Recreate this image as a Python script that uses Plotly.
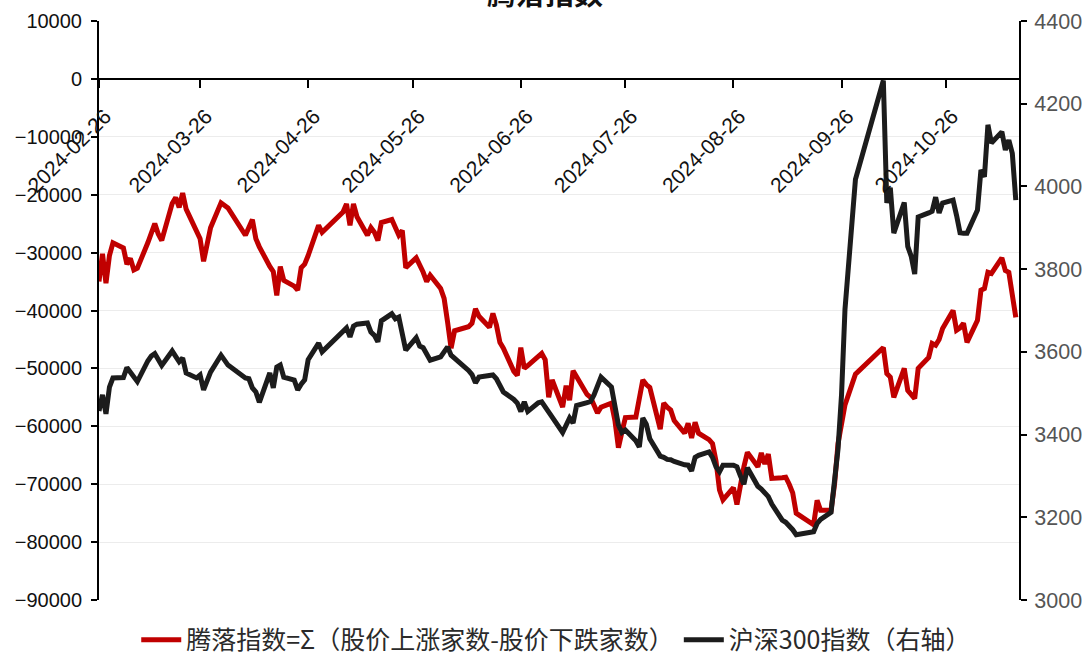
import pandas as pd
import plotly.graph_objects as go

# Trading calendar (SSE/SZSE), 2024-02-26 .. 2024-11-15
market_holidays = ["2024-04-04", "2024-04-05", "2024-05-01", "2024-05-02", "2024-05-03",
                   "2024-06-10", "2024-09-16", "2024-09-17", "2024-10-01", "2024-10-02",
                   "2024-10-03", "2024-10-04", "2024-10-07"]
trade_days = [d for d in pd.bdate_range("2024-02-26", "2024-11-15")
              if d.strftime("%Y-%m-%d") not in market_holidays]

# Advance-decline line (left axis)
adl = [
    -35000, -30200, -35300, -30500,
    -28300, -29200, -32000, -31000, -33000, -32700, -28300, -26500, -25000, -26800, -27900,
    -21500, -20500, -22200, -19700, -22500, -26500, -27600, -31500, -28000, -25700,
    -21400, -21800, -22300, -27000, -25500, -24300, -27600, -29000, -32400, -33300, -37400,
    -32400, -34800, -35800, -36500, -32600, -32000, -30500, -25300, -26500,
    -23000, -21600, -25300, -21600, -23800, -27000, -25700, -26500, -27900, -24800, -24300,
    -25500, -27000, -26200, -32600, -30900, -32000, -33400, -35000, -33900,
    -36200, -37900, -42000, -46500, -43500, -42800, -42200, -39700, -41000, -42900, -40500,
    -42500, -45500, -46500, -50500, -51200, -46400, -50000, -49500,
    -47800, -47400, -48500, -55000, -52000, -56700, -53000, -55500, -50400, -51500, -54500,
    -55000, -56500, -57700, -56700, -56000, -59000, -63700, -61000, -58500, -58400, -55000, -52000,
    -52800, -53300, -60500, -56000, -56700, -57200, -59000, -61200, -59500, -62000, -59300,
    -61200, -62300, -63000, -66000, -71000, -72700, -70600, -73500, -70000, -67000, -64500,
    -67000, -64600, -66500, -64800, -69000, -68900, -68800, -70000, -71500, -75000, -77000,
    -72800, -74500, -74500, -70000, -63000, -59000, -56300, -51000,
    -46400, -50900, -51500, -55000, -50000, -53800, -54500, -55200, -50000, -48100, -45700,
    -46000, -45000, -43100, -40000, -43400, -43000, -42200,
    -45500, -41700, -36500, -36200, -33400, -33600, -30900, -33100, -33400, -37500, -41200,
]

# CSI 300 close (right axis)
hs300 = [
    3457, 3496, 3450, 3515,
    3537, 3538, 3562, 3550, 3535, 3528, 3578, 3590, 3596, 3580, 3567,
    3602, 3590, 3576, 3585, 3549, 3537, 3544, 3508, 3530, 3551,
    3592, 3580, 3568, 3537, 3535, 3513, 3503, 3478, 3549, 3513, 3563,
    3568, 3539, 3532, 3508, 3522, 3532, 3581, 3621, 3600,
    3652, 3658, 3636, 3662, 3667, 3670, 3648, 3640, 3624, 3675, 3692,
    3680, 3684, 3640, 3604, 3634, 3614, 3610, 3595, 3580,
    3588, 3600, 3612, 3592, 3585, 3555, 3545, 3525, 3539, 3542, 3544,
    3535, 3520, 3503, 3485, 3476, 3456, 3479, 3456,
    3477, 3479, 3465, 3452, 3442, 3405, 3425, 3440, 3428, 3470, 3477,
    3480, 3496, 3520, 3539, 3515, 3460, 3423, 3405, 3411, 3385, 3370, 3440,
    3425, 3390, 3348, 3345, 3340, 3339, 3335, 3327, 3326, 3312, 3345,
    3350, 3358, 3345, 3322, 3310, 3326, 3326, 3322, 3300, 3280, 3320,
    3275, 3268, 3260, 3250, 3232, 3193, 3188, 3180, 3170, 3158, 3165,
    3185, 3195, 3212, 3300, 3365, 3495, 3703, 4017,
    4256, 3960, 3997, 3887, 3961, 3855, 3831, 3788, 3926, 3936, 3940,
    3974, 3936, 3960, 3967, 3930, 3888, 3887,
    3887, 3943, 4040, 4023, 4149, 4105, 4132, 4088, 4112, 4080, 3967,
]

x_ticks = ["2024-02-26", "2024-03-26", "2024-04-26", "2024-05-26", "2024-06-26",
           "2024-07-26", "2024-08-26", "2024-09-26", "2024-10-26"]
left_ticks = [10000, 0, -10000, -20000, -30000, -40000, -50000, -60000, -70000, -80000, -90000]
right_ticks = [4400, 4200, 4000, 3800, 3600, 3400, 3200, 3000]

name_adl = "腾落指数=Σ（股价上涨家数-股价下跌家数）"
name_hs = "沪深300指数（右轴）"

num_font = "Liberation Sans, Arial, sans-serif"
cjk_font = "Noto Sans CJK SC, sans-serif"


def signed(v):
    # typographic minus for negative tick labels
    return str(v).replace("-", "\u2212")


fig = go.Figure()
fig.add_trace(go.Scatter(x=trade_days, y=adl, name=name_adl, mode="lines",
                         line=dict(color="#C00000", width=5), yaxis="y"))
fig.add_trace(go.Scatter(x=trade_days, y=hs300, name=name_hs, mode="lines",
                         line=dict(color="#1C1C1C", width=5), yaxis="y2"))

fig.update_layout(
    width=1086, height=657, autosize=False,
    margin=dict(l=99, r=67, t=21, b=57, autoexpand=False),
    paper_bgcolor="white", plot_bgcolor="white",
    showlegend=True,
    legend=dict(orientation="h", x=0.497, xanchor="center", y=-0.069, yanchor="middle",
                font=dict(family=cjk_font, size=25, color="#2a2a2a"),
                itemwidth=40, bgcolor="rgba(0,0,0,0)"),
    xaxis=dict(
        type="date", range=["2024-02-26", "2024-11-15 22:00"],
        tickmode="array", tickvals=x_ticks, ticktext=x_ticks, tickangle=-45,
        anchor="free", position=0.9,
        showline=True, linecolor="#000", linewidth=2,
        ticks="outside", ticklen=8, tickwidth=2, tickcolor="#000",
        ticklabelstandoff=8, ticklabelshift=6,
        showgrid=False, zeroline=False,
        tickfont=dict(family=num_font, size=21, color="#111"),
    ),
    yaxis=dict(
        range=[-90000, 10000], tickmode="array", tickvals=left_ticks,
        ticktext=[signed(v) for v in left_ticks],
        showline=True, linecolor="#000", linewidth=2,
        ticks="outside", ticklen=6, tickwidth=2, tickcolor="#000",
        ticklabelstandoff=5,
        showgrid=True, gridcolor="#ececec", gridwidth=1, zeroline=False,
        tickfont=dict(family=num_font, size=20, color="#111"),
    ),
    yaxis2=dict(
        overlaying="y", side="right", range=[3000, 4400],
        tickmode="array", tickvals=right_ticks, ticktext=[str(v) for v in right_ticks],
        showline=True, linecolor="#000", linewidth=2,
        ticks="outside", ticklen=6, tickwidth=2, tickcolor="#000",
        ticklabelstandoff=3,
        showgrid=False, zeroline=False,
        tickfont=dict(family=num_font, size=21.5, color="#555"),
    ),
    annotations=[dict(text="<b>腾落指数</b>", x=0.485, y=1.05, xref="paper", yref="paper",
                      xanchor="center", yanchor="middle", showarrow=False,
                      font=dict(family=cjk_font, size=29, color="#111"))],
)

fig.write_html("out.html")
